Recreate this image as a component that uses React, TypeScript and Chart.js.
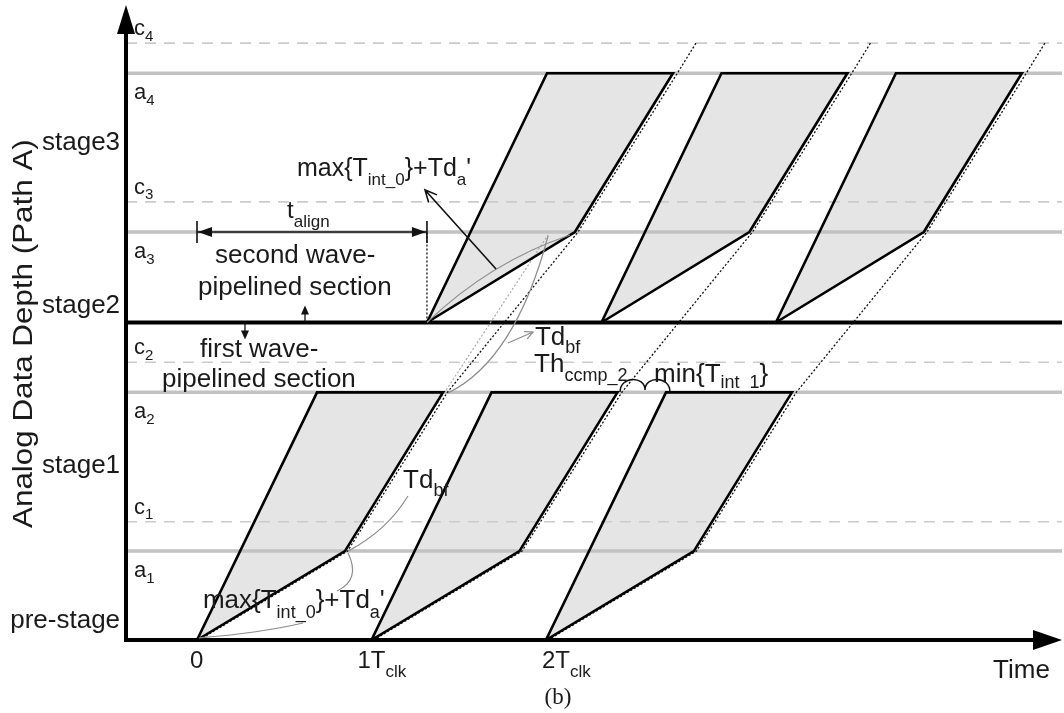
import React, { useEffect, useRef } from "react";
import { Chart, registerables } from "chart.js";

Chart.register(...registerables);

// ---------- data (time in Tclk units, depth in stage units) ----------
const clockTicks = [0, 1, 2];
const clockTickLabels = ["0", "1T[clk]", "2T[clk]"];
const waveStartsFirst = [0, 1, 2];
const alignDelay = 1.318; // t_align
const lowerCornerOffset = 0.848;
const topLeftOffset = 0.688;
const topRightOffset = 1.41;
const aLevels = [0.56, 1.56, 2.57, 3.57];
const cLevels = [0.745, 1.75, 2.76, 3.76];
const aLabels = ["a[1]", "a[2]", "a[3]", "a[4]"];
const cLabels = ["c[1]", "c[2]", "c[3]", "c[4]"];
const stageBoundary = 2;
const stageLabels = ["pre-stage", "stage1", "stage2", "stage3"];
const stageLabelDepths = [0.076, 1.052, 2.06, 3.087];
const xMin = -0.407;
const xMax = 4.958;
const yMin = 0;
const yMax = 4;

type P = { x: number; y: number };

function parseRich(s: string) {
  const segs: { t: string; sub: boolean }[] = [];
  let buf = "";
  let sub = false;
  for (const ch of s) {
    if (ch === "[") {
      if (buf) segs.push({ t: buf, sub });
      buf = "";
      sub = true;
    } else if (ch === "]") {
      if (buf) segs.push({ t: buf, sub });
      buf = "";
      sub = false;
    } else buf += ch;
  }
  if (buf) segs.push({ t: buf, sub });
  return segs;
}

const SANS = '"Liberation Sans", Arial, Helvetica, sans-serif';

function drawRich(
  ctx: CanvasRenderingContext2D,
  s: string,
  x: number,
  y: number,
  size: number,
  align: "left" | "right" | "center" = "left",
  drop = 0.33,
  subRatio = 0.69
) {
  const segs = parseRich(s);
  const subSize = Math.round(size * subRatio);
  const font = (sz: number) => `${sz}px ${SANS}`;
  let w = 0;
  const widths = segs.map((g) => {
    ctx.font = font(g.sub ? subSize : size);
    const m = ctx.measureText(g.t).width;
    w += m;
    return m;
  });
  let cx = align === "left" ? x : align === "right" ? x - w : x - w / 2;
  ctx.textAlign = "left";
  ctx.textBaseline = "alphabetic";
  segs.forEach((g, i) => {
    ctx.font = font(g.sub ? subSize : size);
    ctx.fillText(g.t, cx, g.sub ? y + size * drop : y);
    cx += widths[i];
  });
}

function shapePoints(start: number, base: number, mid: number, top: number): P[] {
  return [
    { x: start, y: base },
    { x: start + lowerCornerOffset, y: mid },
    { x: start + topRightOffset, y: top },
    { x: start + topLeftOffset, y: top },
    { x: start, y: base },
  ];
}

function dottedPath(s: number): P[] {
  return [
    { x: s + 0.012, y: 0 },
    { x: s + lowerCornerOffset + 0.015, y: aLevels[0] },
    { x: s + topRightOffset + 0.025, y: aLevels[1] },
    { x: s + alignDelay + lowerCornerOffset + 0.018, y: aLevels[2] },
    { x: s + alignDelay + topRightOffset + 0.025, y: aLevels[3] },
    { x: s + alignDelay + topRightOffset + 0.025 + 0.107, y: cLevels[3] },
  ];
}

const annotationPlugin = {
  id: "annot",
  afterDatasetsDraw(chart: any) {
    const ctx: CanvasRenderingContext2D = chart.ctx;
    const xs = chart.scales.x;
    const ys = chart.scales.y;
    const X = (t: number) => xs.getPixelForValue(t);
    const Y = (d: number) => ys.getPixelForValue(d);
    const ca = chart.chartArea;
    ctx.save();

    // ---- axes ----
    ctx.strokeStyle = "#000";
    ctx.fillStyle = "#000";
    ctx.lineWidth = 4;
    ctx.beginPath();
    ctx.moveTo(ca.left, Y(0) + 2);
    ctx.lineTo(ca.left, ca.top + 26);
    ctx.stroke();
    ctx.beginPath();
    ctx.moveTo(ca.left, ca.top);
    ctx.lineTo(ca.left - 9, ca.top + 29);
    ctx.lineTo(ca.left + 9, ca.top + 29);
    ctx.closePath();
    ctx.fill();
    ctx.beginPath();
    ctx.moveTo(ca.left - 2, Y(0));
    ctx.lineTo(ca.right - 26, Y(0));
    ctx.stroke();
    ctx.beginPath();
    ctx.moveTo(ca.right, Y(0));
    ctx.lineTo(ca.right - 29, Y(0) - 10);
    ctx.lineTo(ca.right - 29, Y(0) + 10);
    ctx.closePath();
    ctx.fill();

    // ---- gray annotation curves ----
    ctx.strokeStyle = "#8c8c8c";
    ctx.lineWidth = 1.2;
    const quad = (p0: number[], c: number[], p1: number[]) => {
      ctx.beginPath();
      ctx.moveTo(X(p0[0]), Y(p0[1]));
      ctx.quadraticCurveTo(X(c[0]), Y(c[1]), X(p1[0]), Y(p1[1]));
      ctx.stroke();
    };
    quad([0.011, 0.013], [0.361, 0.044], [0.608, 0.107]);
    quad([0.866, 0.548], [0.94, 0.38], [0.802, 0.309]);
    quad([0.866, 0.56], [1.09, 0.69], [1.209, 0.907]);
    quad([1.439, 1.556], [1.823, 1.764], [2.012, 2.545]);
    quad([1.318, 2.0], [1.679, 2.381], [2.138, 2.551]);

    const openArrow = (from: number[], to: number[], color: string, lw: number, len: number) => {
      const x0 = X(from[0]), y0 = Y(from[1]), x1 = X(to[0]), y1 = Y(to[1]);
      ctx.strokeStyle = color;
      ctx.lineWidth = lw;
      ctx.beginPath();
      ctx.moveTo(x0, y0);
      ctx.lineTo(x1, y1);
      const a = Math.atan2(y1 - y0, x1 - x0);
      ctx.moveTo(x1 - len * Math.cos(a - 0.45), y1 - len * Math.sin(a - 0.45));
      ctx.lineTo(x1, y1);
      ctx.lineTo(x1 - len * Math.cos(a + 0.45), y1 - len * Math.sin(a + 0.45));
      ctx.stroke();
    };
    openArrow([1.783, 1.871], [1.926, 1.94], "#8c8c8c", 1.2, 9);
    openArrow([1.714, 2.337], [1.307, 2.835], "#111", 1.6, 13);

    // ---- t_align dimension ----
    ctx.strokeStyle = "#111";
    ctx.fillStyle = "#111";
    ctx.lineWidth = 1.6;
    const ya = Y(aLevels[2]);
    const xa0 = X(0), xa1 = X(alignDelay);
    ctx.beginPath();
    ctx.moveTo(xa0, ya);
    ctx.lineTo(xa1, ya);
    ctx.moveTo(xa0, ya - 11);
    ctx.lineTo(xa0, ya + 11);
    ctx.moveTo(xa1, ya - 11);
    ctx.lineTo(xa1, ya + 11);
    ctx.stroke();
    const tri = (pts: number[][]) => {
      ctx.beginPath();
      ctx.moveTo(pts[0][0], pts[0][1]);
      pts.slice(1).forEach((p) => ctx.lineTo(p[0], p[1]));
      ctx.closePath();
      ctx.fill();
    };
    tri([[xa0 + 1, ya], [xa0 + 15, ya - 5], [xa0 + 15, ya + 5]]);
    tri([[xa1 - 1, ya], [xa1 - 15, ya - 5], [xa1 - 15, ya + 5]]);

    // small arrows across the stage boundary
    const yb = Y(stageBoundary);
    const xu = X(0.619), xd = X(0.275);
    ctx.lineWidth = 1.3;
    ctx.beginPath();
    ctx.moveTo(xu, yb);
    ctx.lineTo(xu, yb - 10);
    ctx.moveTo(xd, yb);
    ctx.lineTo(xd, yb + 10);
    ctx.stroke();
    tri([[xu, yb - 17], [xu - 4, yb - 8], [xu + 4, yb - 8]]);
    tri([[xd, yb + 17], [xd - 4, yb + 8], [xd + 4, yb + 8]]);

    // braces
    ctx.lineWidth = 1.5;
    ctx.strokeStyle = "#111";
    ctx.beginPath();
    ctx.moveTo(X(2.425), Y(1.562));
    ctx.bezierCurveTo(X(2.425), Y(1.665), X(2.568), Y(1.665), X(2.568), Y(1.575));
    ctx.bezierCurveTo(X(2.568), Y(1.665), X(2.711), Y(1.665), X(2.711), Y(1.562));
    ctx.stroke();

    // ---- texts ----
    ctx.fillStyle = "#1a1a1a";
    aLevels.forEach((a, i) => drawRich(ctx, aLabels[i], X(-0.361), Y(a - 0.164), 22, "left", 0.25));
    cLevels.forEach((c, i) => drawRich(ctx, cLabels[i], X(-0.361), Y(c + 0.05), 22, "left", 0.25));
    stageLabels.forEach((s, i) => drawRich(ctx, s, X(-0.441), Y(stageLabelDepths[i]), 26, "right"));
    const tickShift = [-0.04, -0.08, -0.023];
    clockTicks.forEach((t, i) =>
      drawRich(ctx, clockTickLabels[i], X(t + tickShift[i]), Y(-0.176), 24, "left", 0.37)
    );
    drawRich(ctx, "Time", X(4.563), Y(-0.239), 26);
    ctx.font = `23px "Liberation Serif", "Times New Roman", serif`;
    ctx.textAlign = "center";
    ctx.fillText("(b)", X(2.069), Y(-0.405));

    drawRich(ctx, "max{T[int_0]}+Td[a]'", X(0.573), Y(2.923), 25, "left", 0.38);
    drawRich(ctx, "max{T[int_0]}+Td[a]'", X(0.034), Y(0.202), 26, "left", 0.38);
    drawRich(ctx, "t[align]", X(0.516), Y(2.658), 24, "left", 0.36);
    drawRich(ctx, "second wave-", X(0.103), Y(2.375), 26);
    drawRich(ctx, "pipelined section", X(0.006), Y(2.173), 26);
    drawRich(ctx, "first wave-", X(0.017), Y(1.783), 26);
    drawRich(ctx, "pipelined section", X(-0.2), Y(1.594), 26);
    drawRich(ctx, "Td[bf]", X(1.937), Y(1.858), 26, "left", 0.31);
    drawRich(ctx, "Th[ccmp_2]", X(1.932), Y(1.688), 26, "left", 0.36);
    drawRich(ctx, "min{T[int_1]}", X(2.62), Y(1.625), 26, "left", 0.22);
    drawRich(ctx, "Td[bf]", X(1.181), Y(0.957), 26, "left", 0.31);

    // y axis title
    ctx.save();
    ctx.translate(32, Y(1.93));
    ctx.rotate(-Math.PI / 2);
    ctx.scale(1.12, 1);
    drawRich(ctx, "Analog Data Depth (Path A)", 0, 0, 28, "center");
    ctx.restore();

    ctx.restore();
  },
};

export default function App() {
  const ref = useRef<HTMLCanvasElement | null>(null);
  useEffect(() => {
    if (!ref.current) return;
    const datasets: any[] = [];
    const waveStartsSecond = waveStartsFirst.map((s) => s + alignDelay);
    const shapes: P[][] = [
      ...waveStartsFirst.map((s) => shapePoints(s, 0, aLevels[0], aLevels[1])),
      ...waveStartsSecond.map((s) => shapePoints(s, stageBoundary, aLevels[2], aLevels[3])),
    ];
    shapes.forEach((pts) =>
      datasets.push({
        data: pts,
        fill: "shape",
        backgroundColor: "#e5e5e5",
        borderColor: "rgba(0,0,0,0)",
        borderWidth: 0,
        pointRadius: 0,
        tension: 0,
        order: 10,
      })
    );
    aLevels.forEach((a) =>
      datasets.push({
        data: [{ x: xMin, y: a }, { x: xMax, y: a }],
        borderColor: "#c2c2c2",
        borderWidth: 3.5,
        pointRadius: 0,
        fill: false,
        order: 5,
      })
    );
    cLevels.forEach((c) =>
      datasets.push({
        data: [{ x: xMin, y: c }, { x: xMax, y: c }],
        borderColor: "#cbcbcb",
        borderWidth: 1.6,
        borderDash: [11, 8],
        pointRadius: 0,
        fill: false,
        order: 5,
      })
    );
    datasets.push({
      data: [{ x: xMin, y: stageBoundary }, { x: xMax, y: stageBoundary }],
      borderColor: "#000",
      borderWidth: 4,
      pointRadius: 0,
      fill: false,
      order: 4,
    });
    waveStartsFirst.forEach((s) =>
      datasets.push({
        data: dottedPath(s),
        borderColor: "#111",
        borderWidth: 1.3,
        borderDash: [2, 2],
        pointRadius: 0,
        fill: false,
        order: 2,
      })
    );
    datasets.push({
      data: [{ x: 1.353, y: 1.449 }, { x: 2.012, y: 2.551 }],
      borderColor: "#a8a8a8",
      borderWidth: 1.2,
      borderDash: [2, 2],
      pointRadius: 0,
      fill: false,
      order: 2,
    });
    datasets.push({
      data: [{ x: alignDelay, y: stageBoundary }, { x: alignDelay, y: aLevels[2] }],
      borderColor: "#111",
      borderWidth: 1.3,
      borderDash: [2, 2],
      pointRadius: 0,
      fill: false,
      order: 2,
    });
    shapes.forEach((pts) =>
      datasets.push({
        data: pts,
        fill: false,
        borderColor: "#000",
        borderWidth: 2.6,
        borderJoinStyle: "miter",
        pointRadius: 0,
        tension: 0,
        order: 1,
      })
    );

    const chart = new Chart(ref.current, {
      type: "line",
      data: { datasets },
      options: {
        animation: false,
        responsive: false,
        maintainAspectRatio: false,
        events: [],
        layout: { padding: { left: 126, right: 2, top: 5, bottom: 73 } },
        plugins: { legend: { display: false }, tooltip: { enabled: false }, title: { display: false } },
        scales: {
          x: { type: "linear", min: xMin, max: xMax, display: false },
          y: { type: "linear", min: yMin, max: yMax, display: false },
        },
      },
      plugins: [annotationPlugin],
    });
    return () => chart.destroy();
  }, []);
  return (
    <div style={{ position: "absolute", left: 0, top: 0, width: 1064, height: 713, background: "#fff" }}>
      <canvas ref={ref} width={1064} height={713} style={{ display: "block" }} />
    </div>
  );
}
